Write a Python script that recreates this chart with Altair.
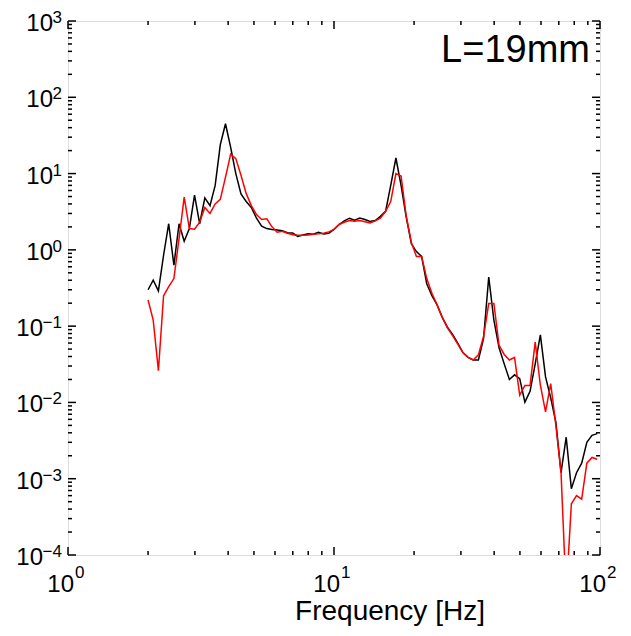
import altair as alt
import pandas as pd

# ---- data ----
freq = [2.000, 2.091, 2.187, 2.287, 2.391, 2.501, 2.615, 2.734, 2.859, 2.990,
        3.126, 3.269, 3.419, 3.575, 3.738, 3.909, 4.088, 4.275, 4.470, 4.675,
        4.888, 5.112, 5.345, 5.590, 5.845, 6.113, 6.392, 6.684, 6.990, 7.309,
        7.643, 7.993, 8.358, 8.740, 9.140, 9.557, 9.994, 10.45, 10.93, 11.43,
        11.95, 12.50, 13.07, 13.66, 14.29, 14.94, 15.63, 16.34, 17.09, 17.87,
        18.68, 19.54, 20.41, 21.35, 22.32, 23.34, 24.41, 25.53, 26.69, 27.91,
        29.19, 30.52, 31.92, 33.38, 34.90, 36.50, 38.17, 39.91, 41.74, 43.64,
        45.64, 47.73, 49.91, 52.19, 54.58, 57.07, 59.68, 62.41, 65.26, 68.25,
        71.37, 74.63, 78.04, 81.61, 85.34, 89.24, 93.32, 97.59]

black = [0.30, 0.40, 0.29, 0.85, 2.2, 0.63, 2.2, 1.3, 1.9, 5.2,
         2.2, 4.8, 3.8, 7.0, 24, 45, 22, 10, 5.4, 4.3,
         3.6, 2.6, 2.05, 1.9, 1.85, 1.82, 1.78, 1.68, 1.66, 1.5,
         1.57, 1.62, 1.6, 1.7, 1.62, 1.65, 1.85, 2.15, 2.4, 2.6,
         2.45, 2.62, 2.5, 2.35, 2.42, 2.75, 3.2, 7.0, 16, 7.0,
         2.7, 1.2, 0.95, 0.82, 0.36, 0.25, 0.19, 0.13, 0.097, 0.078,
         0.06, 0.045, 0.039, 0.036, 0.036, 0.069, 0.44, 0.12, 0.052, 0.032,
         0.020, 0.023, 0.0205, 0.0101, 0.014, 0.032, 0.077, 0.0216, 0.0115, 0.0055,
         0.0012, 0.0035, 0.00074, 0.0012, 0.0016, 0.003, 0.0037, 0.0039]

red = [0.22, 0.12, 0.026, 0.25, 0.33, 0.42, 1.4, 4.9, 1.9, 1.86,
       2.3, 3.6, 3.0, 4.0, 4.6, 9.0, 18, 15.7, 9.5, 5.5,
       3.8, 2.9, 2.5, 2.55, 2.0, 1.7, 1.75, 1.65, 1.58, 1.55,
       1.55, 1.57, 1.6, 1.62, 1.65, 1.72, 1.85, 2.15, 2.3, 2.42,
       2.38, 2.42, 2.33, 2.25, 2.4, 2.6, 3.2, 4.3, 10, 9.3,
       2.8, 1.25, 0.82, 0.82, 0.42, 0.27, 0.19, 0.13, 0.095, 0.075,
       0.058, 0.045, 0.039, 0.036, 0.042, 0.073, 0.198, 0.198, 0.056, 0.0425,
       0.036, 0.039, 0.0125, 0.0167, 0.0167, 0.062, 0.0168, 0.0075, 0.0177, 0.005,
       0.0012, 0.00003, 0.00047, 0.0006, 0.00054, 0.0016, 0.0019, 0.0018]

x_major = [1, 10, 100]
x_major_exp = ["0", "1", "2"]
x_minor = [2, 3, 4, 5, 6, 7, 8, 9, 20, 30, 40, 50, 60, 70, 80, 90]
y_major_pos = [1, 10, 100, 1000]
y_major_pos_exp = ["0", "1", "2", "3"]
y_major_neg = [1e-4, 1e-3, 1e-2, 1e-1]
y_major_neg_exp = ["\u22124", "\u22123", "\u22122", "\u22121"]
y_minor = [m * 10.0 ** e for e in range(-4, 3) for m in range(2, 10)]

title_text = "L=19mm"
xlabel = "Frequency [Hz]"

# ---- chart ----
W, H = 532, 534
FONT = "Liberation Sans"
xs = alt.Scale(type="log", domain=[1, 100], nice=False)
ys = alt.Scale(type="log", domain=[1e-4, 1e3], nice=False)


def line(vals, color):
    d = pd.DataFrame({"f": freq, "v": vals})
    return alt.Chart(d).mark_line(color=color, strokeWidth=1.5, clip=True).encode(
        x=alt.X("f:Q", scale=xs, axis=None),
        y=alt.Y("v:Q", scale=ys, axis=None),
    )


def xticks(vals, length):
    d = pd.DataFrame({"t": vals})
    base = alt.Chart(d).mark_rule(color="black", strokeWidth=1.5)
    bot = base.encode(x=alt.X("t:Q", scale=xs, axis=None), y=alt.value(H), y2=alt.value(H - length))
    top = base.encode(x=alt.X("t:Q", scale=xs, axis=None), y=alt.value(0), y2=alt.value(length))
    return [bot, top]


def yticks(vals, length):
    d = pd.DataFrame({"t": vals})
    base = alt.Chart(d).mark_rule(color="black", strokeWidth=1.5)
    left = base.encode(y=alt.Y("t:Q", scale=ys, axis=None), x=alt.value(0), x2=alt.value(length))
    right = base.encode(y=alt.Y("t:Q", scale=ys, axis=None), x=alt.value(W), x2=alt.value(W - length))
    return [left, right]


def ylabels(vals, exps, ten_dx):
    d = pd.DataFrame({"t": vals, "e": exps, "b": ["10"] * len(vals)})
    ten = alt.Chart(d).mark_text(font=FONT, fontSize=24, align="right", baseline="alphabetic",
                                 dx=ten_dx, dy=10, color="black").encode(
        y=alt.Y("t:Q", scale=ys, axis=None), x=alt.value(0), text="b:N")
    sup = alt.Chart(d).mark_text(font=FONT, fontSize=17, align="right", baseline="alphabetic",
                                 dx=-6, dy=2, color="black").encode(
        y=alt.Y("t:Q", scale=ys, axis=None), x=alt.value(0), text="e:N")
    return [ten, sup]


xd = pd.DataFrame({"t": x_major, "e": x_major_exp, "b": ["10"] * len(x_major)})
xten = alt.Chart(xd).mark_text(font=FONT, fontSize=24, align="right", baseline="alphabetic",
                               dx=6, color="black").encode(
    x=alt.X("t:Q", scale=xs, axis=None), y=alt.value(H + 37), text="b:N")
xsup = alt.Chart(xd).mark_text(font=FONT, fontSize=17, align="left", baseline="alphabetic",
                               dx=7, color="black").encode(
    x=alt.X("t:Q", scale=xs, axis=None), y=alt.value(H + 23), text="e:N")

xtitle = alt.Chart(pd.DataFrame({"s": [xlabel]})).mark_text(
    font=FONT, fontSize=28, align="center", baseline="alphabetic", color="black").encode(
    x=alt.value(322), y=alt.value(H + 65), text="s:N")

ltitle = alt.Chart(pd.DataFrame({"s": [title_text]})).mark_text(
    font=FONT, fontSize=38, align="right", baseline="alphabetic", color="black").encode(
    x=alt.value(W - 10), y=alt.value(41), text="s:N")

layers = [line(black, "#000000"), line(red, "#ff0000")]
layers += xticks(x_major, 8) + xticks(x_minor, 4)
layers += yticks(y_major_pos + y_major_neg, 8) + yticks(y_minor, 4)
layers += ylabels(y_major_pos, y_major_pos_exp, -15)
layers += ylabels(y_major_neg, y_major_neg_exp, -25)
layers += [xten, xsup, xtitle, ltitle]

chart = alt.layer(*layers).properties(
    width=W, height=H,
    autosize="none",
    padding={"left": 60, "top": 13, "right": 20, "bottom": 72},
).configure_view(stroke="black", strokeWidth=2).configure(background="white")

chart.save("out.html", embed_options={"renderer": "svg", "actions": False})
